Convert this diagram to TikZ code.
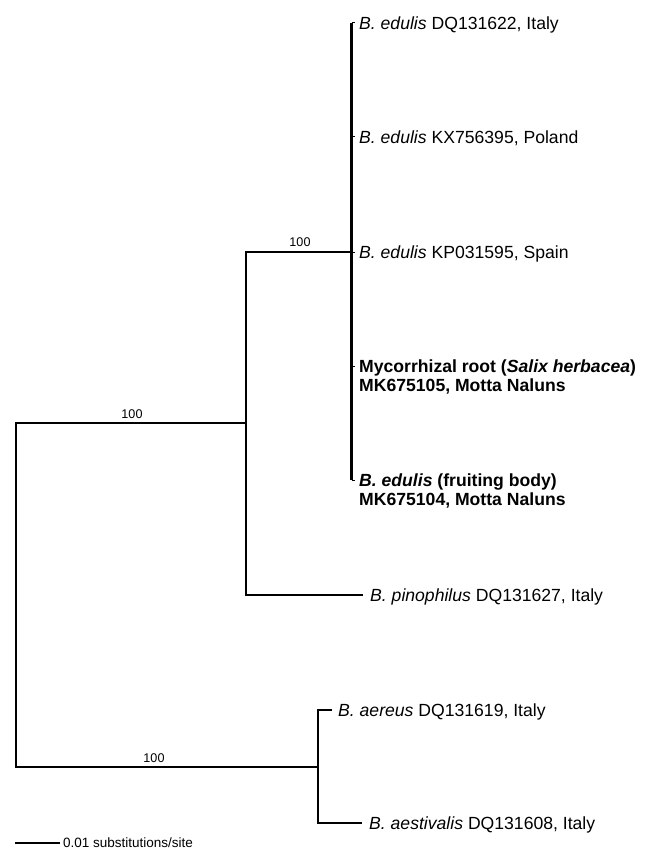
\documentclass[tikz,border=0pt]{standalone}
\usepackage{fontspec}
\setmainfont{Liberation Sans}
\usetikzlibrary{calc}
\begin{document}
\begin{tikzpicture}[x=1pt,y=-1pt,
  branch/.style={line width=2.1pt, line join=miter},
  tick/.style={line width=1pt},
  leaf/.style={anchor=base west, inner sep=0pt, font=\fontsize{17.6}{19}\selectfont},
  boot/.style={anchor=base, inner sep=0pt, font=\fontsize{12.6}{14}\selectfont},
  scaletext/.style={anchor=base west, inner sep=0pt, font=\fontsize{13.5}{15}\selectfont}]
\useasboundingbox (0,0) rectangle (646,850);
% tree coordinates
\coordinate (r1) at (16,423);
\coordinate (r2) at (16,767);
\coordinate (n1) at (246,423);
\coordinate (n1t) at (246,252);
\coordinate (n1b) at (246,595);
\coordinate (e3) at (351.5,252);
\coordinate (etop) at (351.5,23);
\coordinate (ebot) at (351.5,480);
\coordinate (pin) at (363,595);
\coordinate (n2) at (318,767);
\coordinate (n2t) at (318,710);
\coordinate (n2b) at (318,823);
\coordinate (aer) at (332,710);
\coordinate (aes) at (362,823);
\foreach \i/\y in {1/23,2/137,3/252,4/366,5/480}{
  \coordinate (b\i) at (351.5,\y);
  \coordinate (t\i) at (354.5,\y);
}
% branches
\draw[branch] (n1) -- (r1) -- (r2) -- (n2);
\draw[branch] (e3) -- (n1t) -- (n1b) -- (pin);
\draw[branch] (etop) -- (ebot);
\draw[branch] (aer) -- (n2t) -- (n2b) -- (aes);
\foreach \i in {1,...,5}{ \draw[tick] (b\i) -- (t\i); }
% bootstrap labels
\node[boot] (bs1) at (132,418) {100};
\node[boot] (bs2) at (300,246.5) {100};
\node[boot] (bs3) at (154,762.5) {100};
% leaf labels
\node[leaf] (l1) at ($(t1)+(4.5,6.3)$) {\textit{B. edulis} DQ131622, Italy};
\node[leaf] (l2) at ($(t2)+(4.5,6.3)$) {\textit{B. edulis} KX756395, Poland};
\node[leaf] (l3) at ($(t3)+(4.5,6.3)$) {\textit{B. edulis} KP031595, Spain};
\node[leaf] (l4a) at ($(t4)+(4.5,6.3)$) {\textbf{Mycorrhizal root (\textit{Salix herbacea})}};
\node[leaf] (l4b) at ($(l4a.base west)+(0,19)$) {\textbf{MK675105, Motta Naluns}};
\node[leaf] (l5a) at ($(t5)+(4.5,6.3)$) {\textbf{\textit{B. edulis} (fruiting body)}};
\node[leaf] (l5b) at ($(l5a.base west)+(0,19)$) {\textbf{MK675104, Motta Naluns}};
\node[leaf] (l6) at ($(pin)+(7,6.3)$) {\textit{B. pinophilus} DQ131627, Italy};
\node[leaf] (l7) at ($(aer)+(6,6.3)$) {\textit{B. aereus} DQ131619, Italy};
\node[leaf] (l8) at ($(aes)+(7,6.3)$) {\textit{B. aestivalis} DQ131608, Italy};
% scale bar
\coordinate (s1) at (15,843);
\coordinate (s2) at (60,843);
\draw[branch] (s1) -- (s2);
\node[scaletext] (sc) at (63,847.5) {0.01 substitutions/site};
\end{tikzpicture}
\end{document}
